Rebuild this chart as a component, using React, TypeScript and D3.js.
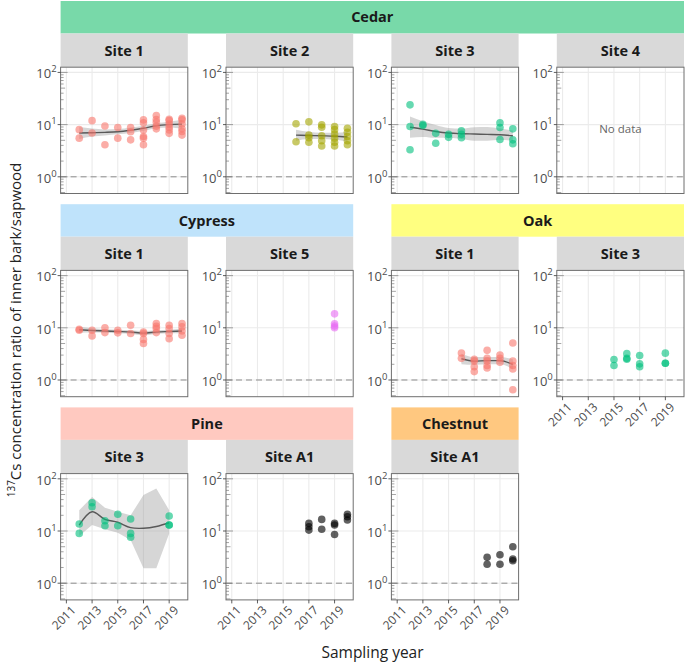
import React from "react";
import * as d3 from "d3";

// ---------- DATA ----------
const cedarS1Years = [2012,2012,2013,2013,2014,2014,2015,2015,2016,2016,2016,2017,2017,2017,2017,2017,2017,2018,2018,2018,2018,2018,2019,2019,2019,2019,2019,2019,2020,2020,2020,2020,2020,2020];
const cedarS1Values = [8.0,5.5,11.9,6.9,9.4,4.1,8.8,5.5,8.8,7.3,5.1,12.3,10.8,7.9,5.9,5.5,4.1,14.9,12.5,11.1,9.3,8.3,12.6,11.9,10.3,8.9,7.9,6.8,13.2,12.3,10.3,8.3,7.4,6.3];
const cedarS2Years = [2016,2016,2017,2017,2017,2017,2018,2018,2018,2018,2018,2019,2019,2019,2019,2019,2019,2020,2020,2020,2020,2020];
const cedarS2Values = [10.4,4.7,11.3,6.3,5.6,4.6,9.9,8.9,6.1,4.9,3.9,9.2,8.0,6.6,5.5,4.6,3.9,8.5,7.1,5.9,4.9,4.1];
const cedarS3Years = [2012,2012,2012,2013,2013,2014,2014,2015,2015,2016,2016,2016,2019,2019,2019,2020,2020,2020];
const cedarS3Values = [23.9,9.2,3.3,10.1,9.6,6.8,4.4,6.5,5.7,7.6,6.5,5.6,10.8,8.8,5.2,8.3,5.1,4.3];
const cypressS1Years = [2012,2012,2013,2013,2014,2014,2015,2015,2016,2016,2017,2017,2017,2017,2018,2018,2018,2018,2019,2019,2019,2019,2020,2020,2020,2020];
const cypressS1Values = [9.4,9.0,9.0,7.0,10.0,8.1,9.0,8.0,11.2,7.8,8.3,7.8,6.0,5.0,12.1,10.7,9.7,8.1,11.2,9.7,7.8,6.2,12.1,10.4,8.7,7.2];
const cypressS5Years = [2019,2019,2019,2019];
const cypressS5Values = [18.5,12.0,10.8,10.0];
const oakS1Years = [2016,2016,2017,2017,2017,2017,2018,2018,2018,2018,2018,2019,2019,2019,2020,2020,2020,2020,2020];
const oakS1Values = [3.3,2.6,2.5,2.3,1.8,1.45,3.7,2.6,2.3,1.9,1.7,3.0,2.6,2.2,5.1,2.3,1.9,1.63,0.65];
const oakS3Years = [2015,2015,2016,2016,2016,2017,2017,2017,2019,2019,2019];
const oakS3Values = [2.47,1.9,3.2,2.6,2.5,2.95,2.04,1.8,3.27,2.1,2.1];
const pineS3Years = [2012,2012,2013,2013,2014,2014,2015,2015,2016,2016,2016,2019,2019,2019];
const pineS3Values = [13.6,9.0,34.8,29.2,15.7,12.6,20.9,12.6,17.0,9.0,7.6,19.4,13.0,13.0];
const pineA1Years = [2017,2017,2017,2018,2018,2019,2019,2019,2020,2020,2020];
const pineA1Values = [14.0,12.1,10.4,16.7,10.8,14.0,13.0,8.6,20.9,18.8,16.2];
const chestnutA1Years = [2018,2018,2019,2019,2020,2020,2020];
const chestnutA1Values = [3.14,2.3,3.5,2.3,5.0,2.9,2.7];

// smooth (loess) fits
const cedarS1SmoothYears = [2012,2013,2014,2015,2016,2017,2018,2019,2020];
const cedarS1Fit = [6.9,7.0,7.1,7.3,7.8,8.5,9.5,10.0,10.2];
const cedarS1Lo = [5.3,5.9,6.2,6.5,6.9,7.6,8.5,8.8,8.3];
const cedarS1Hi = [9.0,8.4,8.1,8.2,8.8,9.5,10.6,11.3,12.4];
const cedarS2SmoothYears = [2016,2017,2018,2019,2020];
const cedarS2Fit = [6.3,6.2,6.1,6.0,5.8];
const cedarS2Lo = [4.9,5.3,5.3,5.1,4.7];
const cedarS2Hi = [8.0,7.3,7.0,7.0,7.2];
const cedarS3SmoothYears = [2012,2013,2014,2015,2016,2017,2018,2019,2020];
const cedarS3Fit = [8.9,8.2,7.4,6.9,6.7,6.6,6.5,6.4,6.1];
const cedarS3Lo = [5.6,5.8,5.6,5.6,5.3,4.9,4.9,5.1,4.9];
const cedarS3Hi = [14.3,11.6,9.8,8.6,8.4,8.9,9.0,8.4,7.7];
const cypressS1SmoothYears = [2012,2013,2014,2015,2016,2017,2018,2019,2020];
const cypressS1Fit = [9.2,8.9,8.7,8.5,8.3,7.9,8.3,8.5,8.7];
const cypressS1Lo = [8.0,8.1,8.0,7.9,7.7,7.2,7.7,7.9,7.8];
const cypressS1Hi = [10.5,9.8,9.4,9.2,9.0,8.7,9.0,9.2,9.7];
const oakS1SmoothYears = [2016,2017,2018,2019,2020];
const oakS1Fit = [2.55,2.3,2.35,2.35,2.0];
const oakS1Lo = [2.0,1.95,2.0,2.0,1.6];
const oakS1Hi = [3.2,2.75,2.75,2.75,2.5];
const pineS3SmoothYears = [2012,2013,2014,2015,2016,2017,2018,2019];
const pineS3Fit = [13,23.4,16.7,14.7,11.6,11.3,12.2,14.4];
const pineS3Lo = [8.0,13,10.8,9.3,6.7,1.94,1.94,9.0];
const pineS3Hi = [25,45,28,23.5,20,48.8,65,25];

const xTickYears = [2011, 2013, 2015, 2017, 2019];
const yTickExps = [0, 1, 2];

const speciesHeaders = [
  { label: "Cedar", row: 0, c0: 0, c1: 3, color: "#78D9A9" },
  { label: "Cypress", row: 1, c0: 0, c1: 1, color: "#BFE3FB" },
  { label: "Oak", row: 1, c0: 2, c1: 3, color: "#FFFF80" },
  { label: "Pine", row: 2, c0: 0, c1: 1, color: "#FFC9C0" },
  { label: "Chestnut", row: 2, c0: 2, c1: 2, color: "#FFC880" },
];

const SITE_COLORS: Record<string, string> = {
  "Site 1": "#F8766D",
  "Site 2": "#A3A500",
  "Site 3": "#00BF7D",
  "Site 4": "#00B0F6",
  "Site 5": "#E76BF3",
  "Site A1": "#000000",
};

type Smooth = { years: number[]; fit: number[]; lo: number[]; hi: number[]; angular?: boolean } | null;
type Panel = { row: number; col: number; site: string; years: number[]; values: number[]; smooth: Smooth; xAxis: boolean; noData?: boolean };

const panels: Panel[] = [
  { row: 0, col: 0, site: "Site 1", years: cedarS1Years, values: cedarS1Values, smooth: { years: cedarS1SmoothYears, fit: cedarS1Fit, lo: cedarS1Lo, hi: cedarS1Hi }, xAxis: false },
  { row: 0, col: 1, site: "Site 2", years: cedarS2Years, values: cedarS2Values, smooth: { years: cedarS2SmoothYears, fit: cedarS2Fit, lo: cedarS2Lo, hi: cedarS2Hi }, xAxis: false },
  { row: 0, col: 2, site: "Site 3", years: cedarS3Years, values: cedarS3Values, smooth: { years: cedarS3SmoothYears, fit: cedarS3Fit, lo: cedarS3Lo, hi: cedarS3Hi }, xAxis: false },
  { row: 0, col: 3, site: "Site 4", years: [], values: [], smooth: null, xAxis: false, noData: true },
  { row: 1, col: 0, site: "Site 1", years: cypressS1Years, values: cypressS1Values, smooth: { years: cypressS1SmoothYears, fit: cypressS1Fit, lo: cypressS1Lo, hi: cypressS1Hi }, xAxis: false },
  { row: 1, col: 1, site: "Site 5", years: cypressS5Years, values: cypressS5Values, smooth: null, xAxis: false },
  { row: 1, col: 2, site: "Site 1", years: oakS1Years, values: oakS1Values, smooth: { years: oakS1SmoothYears, fit: oakS1Fit, lo: oakS1Lo, hi: oakS1Hi }, xAxis: false },
  { row: 1, col: 3, site: "Site 3", years: oakS3Years, values: oakS3Values, smooth: null, xAxis: true },
  { row: 2, col: 0, site: "Site 3", years: pineS3Years, values: pineS3Values, smooth: { years: pineS3SmoothYears, fit: pineS3Fit, lo: pineS3Lo, hi: pineS3Hi, angular: true }, xAxis: true },
  { row: 2, col: 1, site: "Site A1", years: pineA1Years, values: pineA1Values, smooth: null, xAxis: true },
  { row: 2, col: 2, site: "Site A1", years: chestnutA1Years, values: chestnutA1Values, smooth: null, xAxis: true },
];

// ---------- LAYOUT ----------
const W = 685, H = 664;
const FONT = "'Open Sans', 'Noto Sans', sans-serif";
const colLeft = (c: number) => 60.6 + c * 165.4;
const panelW = 127.2;
const headerY = (r: number) => 1 + r * 203.2;
const headerH = 32.5;
const stripH = 33.7;
const plotY = (r: number) => headerY(r) + headerH + stripH;
const plotH = 126.3;

const logTickVals: { v: number; kind: "long" | "mid" | "short" }[] = [];
[0.1, 1, 10].forEach((base) => {
  for (let k = 1; k <= 9; k++) {
    const v = base * k;
    logTickVals.push({ v, kind: k === 1 ? "long" : k === 5 ? "mid" : "short" });
  }
});
logTickVals.push({ v: 100, kind: "long" });

function PanelView({ p }: { p: Panel }) {
  const x0 = colLeft(p.col);
  const y0 = plotY(p.row);
  const x = d3.scaleLinear().domain([2010.55, 2020.45]).range([x0, x0 + panelW]);
  const y = d3.scaleLog().domain([Math.pow(10, -0.32), Math.pow(10, 2.1)]).range([y0 + plotH, y0]);
  const color = SITE_COLORS[p.site];
  const stripTop = headerY(p.row) + headerH;
  const curve = p.smooth && p.smooth.angular ? d3.curveLinear : d3.curveMonotoneX;
  const line = d3.line<number>().x((_, i) => x(p.smooth!.years[i])).y((d) => y(d)).curve(p.smooth && p.smooth.angular ? d3.curveCatmullRom.alpha(0.5) : d3.curveMonotoneX);
  const area = d3
    .area<number>()
    .x((_, i) => x(p.smooth!.years[i]))
    .y0((_, i) => y(p.smooth!.lo[i]))
    .y1((_, i) => y(p.smooth!.hi[i]))
    .curve(curve);
  const [dmin, dmax] = y.domain();
  const clipId = `clip-${p.row}-${p.col}`;
  return (
    <g>
      <defs>
        <clipPath id={clipId}>
          <rect x={x0} y={y0} width={panelW} height={plotH} />
        </clipPath>
      </defs>
      <rect x={x0} y={stripTop} width={panelW} height={stripH} fill="#D9D9D9" />
      <text x={x0 + panelW / 2} y={stripTop + stripH / 2} dy="0.36em" textAnchor="middle" fontFamily={FONT} fontWeight={700} fontSize={14.5} fill="#1A1A1A">
        {p.site}
      </text>
      <rect x={x0} y={y0} width={panelW} height={plotH} fill="#FFFFFF" />
      {xTickYears.map((t) => (
        <line key={"gx" + t} x1={x(t)} x2={x(t)} y1={y0} y2={y0 + plotH} stroke="#EBEBEB" strokeWidth={1.1} />
      ))}
      {yTickExps.map((e) => (
        <line key={"gy" + e} x1={x0} x2={x0 + panelW} y1={y(Math.pow(10, e))} y2={y(Math.pow(10, e))} stroke="#EBEBEB" strokeWidth={1.1} />
      ))}
      <line x1={x0} x2={x0 + panelW} y1={y(1)} y2={y(1)} stroke="#8C8C8C" strokeWidth={1} strokeDasharray="6,4" />
      {logTickVals
        .filter((t) => t.v >= dmin && t.v <= dmax)
        .map((t, i) => (
          <line
            key={"lt" + i}
            x1={x0}
            x2={x0 + (t.kind === "long" ? 7 : t.kind === "mid" ? 4.5 : 3)}
            y1={y(t.v)}
            y2={y(t.v)}
            stroke="#666"
            strokeWidth={0.6}
          />
        ))}
      <g clipPath={`url(#${clipId})`}>
        {p.smooth && (
          <>
            <path d={area(p.smooth.fit) || ""} fill="#999999" fillOpacity={0.4} />
            <path d={line(p.smooth.fit) || ""} fill="none" stroke="#595959" strokeWidth={1.4} />
          </>
        )}
        {p.values.map((v, i) => (
          <circle key={"pt" + i} cx={x(p.years[i])} cy={y(v)} r={3.8} fill={color} fillOpacity={p.site === "Site A1" ? 0.62 : 0.6} />
        ))}
      </g>
      {p.noData && (
        <text x={x0 + panelW / 2} y={y(10)} dy="0.7em" textAnchor="middle" fontFamily={FONT} fontSize={11.5} fill="#666">
          No data
        </text>
      )}
      <rect x={x0} y={y0} width={panelW} height={plotH} fill="none" stroke="#6E6E6E" strokeWidth={1} />
      {yTickExps.map((e) => (
        <g key={"yt" + e}>
          <line x1={x0 - 3} x2={x0} y1={y(Math.pow(10, e))} y2={y(Math.pow(10, e))} stroke="#333" strokeWidth={0.8} />
          <text x={x0 - 4} y={y(Math.pow(10, e))} dy="0.45em" textAnchor="end" fontFamily={FONT} fontSize={13} fill="#4D4D4D">
            <tspan>10</tspan>
            <tspan dy="-6" fontSize={9.5}>{String(e)}</tspan>
          </text>
        </g>
      ))}
      {p.xAxis &&
        xTickYears.map((t) => (
          <g key={"xt" + t}>
            <line x1={x(t)} x2={x(t)} y1={y0 + plotH} y2={y0 + plotH + 3.5} stroke="#333" strokeWidth={0.8} />
            <text
              transform={`translate(${x(t) + 4},${y0 + plotH + 5}) rotate(-45)`}
              dy="0.72em"
              textAnchor="end"
              fontFamily={FONT}
              fontSize={12}
              fill="#4D4D4D"
            >
              {String(t)}
            </text>
          </g>
        ))}
    </g>
  );
}

export default function App() {
  return (
    <svg width={W} height={H} style={{ position: "absolute", left: 0, top: 0, background: "#fff" }}>
      <rect x={0} y={0} width={W} height={H} fill="#fff" />
      {speciesHeaders.map((h) => {
        const x0 = colLeft(h.c0);
        const x1 = colLeft(h.c1) + panelW;
        const y0 = headerY(h.row);
        return (
          <g key={h.label}>
            <rect x={x0} y={y0} width={x1 - x0} height={headerH} fill={h.color} />
            <text x={(x0 + x1) / 2} y={y0 + headerH / 2} dy="0.36em" textAnchor="middle" fontFamily={FONT} fontWeight={700} fontSize={14.5} fill="#1A1A1A">
              {h.label}
            </text>
          </g>
        );
      })}
      {panels.map((p) => (
        <PanelView key={`${p.row}-${p.col}`} p={p} />
      ))}
      <text transform="translate(21,330) rotate(-90)" textAnchor="middle" fontFamily={FONT} fontSize={15} fill="#222">
        <tspan fontSize={10} dy="-6">137</tspan>
        <tspan dy="6">Cs concentration ratio of inner bark/sapwood</tspan>
      </text>
      <text x={372.5} y={658} textAnchor="middle" fontFamily={FONT} fontSize={15.5} fill="#222">
        Sampling year
      </text>
    </svg>
  );
}
